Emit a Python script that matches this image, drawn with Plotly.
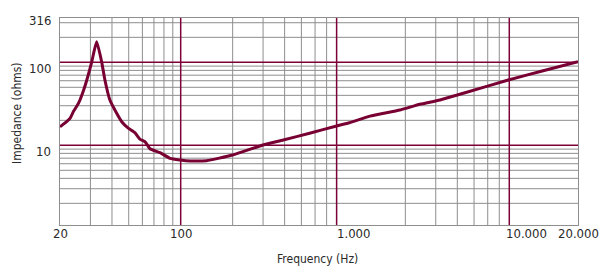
import math
import plotly.graph_objects as go

# Impedance curve
freq_hz = [20, 21.4, 22.9, 24.0, 25.0, 26.1, 27.3, 28.6, 30.5, 32.6, 34.9, 36.4, 38.9, 42.2, 45.7,
           49.5, 54.4, 58.0, 62.2, 66.4, 75.9, 86.8, 99.3, 113.5, 141, 200, 300,
           393, 558, 800, 950, 1247, 1862, 2430, 3170, 4330, 7890, 12570, 20000]
impedance_ohm = [16.7, 18.6, 21.3, 25.9, 29.5, 35.1, 45.0, 61.2, 100, 177, 100, 61.2, 35.1, 25.2, 19.1,
                 16.2, 14.1, 11.9, 11.0, 9.1, 8.15, 6.97, 6.66, 6.48, 6.53, 7.64, 10.1,
                 11.6, 14.0, 17.1, 18.7, 22.5, 26.6, 31.2, 35.2, 42.4, 61.2, 79.3, 101.6]

# Grid lines as drawn in the reference
x_grid_gray = [30, 40, 50, 60, 70, 80, 90, 200, 300, 400, 500, 600, 700,
               2000, 3000, 4000, 5000, 6000, 7000]
x_grid_major = [100, 800, 8000]
y_grid_gray = [2, 3, 4, 5, 6, 7, 8, 9, 20, 30, 40, 50, 60, 70, 80, 90, 200, 300]
y_grid_major = [10, 100]

x_tick_vals = [20, 100, 1000, 10000, 20000]
x_tick_text = ["20", "100", "1.000", "10.000", "20.000"]
y_tick_vals = [316, 100, 10]
y_tick_text = ["316", "100", "10"]
y_tick_shift = [0, -6.5, -6]

GRAY = "#8e8e8e"
MAROON = "#7e0038"
CURVE = "#780032"
FONT = "DejaVu Sans Condensed, Liberation Sans Narrow, Arial Narrow, sans-serif"
TXT = "#2a2a2a"

fig = go.Figure()
fig.add_trace(go.Scatter(x=freq_hz, y=impedance_ohm, mode="lines",
                         line=dict(color=CURVE, width=3, shape="spline", smoothing=0.5),
                         hoverinfo="skip"))

shapes = []
for v in x_grid_gray:
    shapes.append(dict(type="line", xref="x", yref="paper", x0=v, x1=v, y0=0, y1=1,
                       line=dict(color=GRAY, width=1), layer="below"))
for v in y_grid_gray:
    shapes.append(dict(type="line", xref="paper", yref="y", x0=0, x1=1, y0=v, y1=v,
                       line=dict(color=GRAY, width=1), layer="below"))
for v in x_grid_major:
    shapes.append(dict(type="line", xref="x", yref="paper", x0=v, x1=v, y0=0, y1=1,
                       line=dict(color=MAROON, width=1.5), layer="below"))
for v in y_grid_major:
    shapes.append(dict(type="line", xref="paper", yref="y", x0=0, x1=1, y0=v, y1=v,
                       line=dict(color=MAROON, width=1.5), layer="below"))

annotations = []
for v, t, s in zip(y_tick_vals, y_tick_text, y_tick_shift):
    annotations.append(dict(xref="paper", yref="y", x=0, y=math.log10(v), text=t,
                            showarrow=False, xanchor="right", yanchor="middle",
                            xshift=-7, yshift=s,
                            font=dict(family=FONT, size=13, color=TXT)))
x_lo, x_hi = math.log10(20), math.log10(20000)
for v, t in zip(x_tick_vals, x_tick_text):
    xv = min(max(math.log10(v), x_lo), x_hi)
    annotations.append(dict(xref="x", yref="paper", x=xv, y=0, text=t,
                            showarrow=False, xanchor="center", yanchor="top",
                            yshift=1, font=dict(family=FONT, size=13, color=TXT)))
annotations.append(dict(xref="paper", yref="paper", x=0.497, y=-0.164,
                        text="Frequency (Hz)", showarrow=False,
                        xanchor="center", yanchor="middle",
                        font=dict(family=FONT, size=12, color=TXT)))
annotations.append(dict(xref="paper", yref="paper", x=-0.082, y=0.539,
                        text="Impedance (ohms)", showarrow=False, textangle=-90,
                        xanchor="center", yanchor="middle",
                        font=dict(family=FONT, size=12, color=TXT)))

fig.update_layout(
    width=605, height=278,
    margin=dict(l=60, r=27, t=18, b=53, autoexpand=False),
    paper_bgcolor="white", plot_bgcolor="white",
    showlegend=False,
    shapes=shapes, annotations=annotations,
    xaxis=dict(type="log", range=[x_lo, x_hi], showgrid=False, zeroline=False,
               showticklabels=False, ticks="", automargin=False,
               showline=True, linecolor=GRAY, linewidth=1, mirror=True),
    yaxis=dict(type="log", range=[0.040, 2.534], showgrid=False, zeroline=False,
               showticklabels=False, ticks="", automargin=False,
               showline=True, linecolor=GRAY, linewidth=1, mirror=True),
)

fig.write_html("out.html")
